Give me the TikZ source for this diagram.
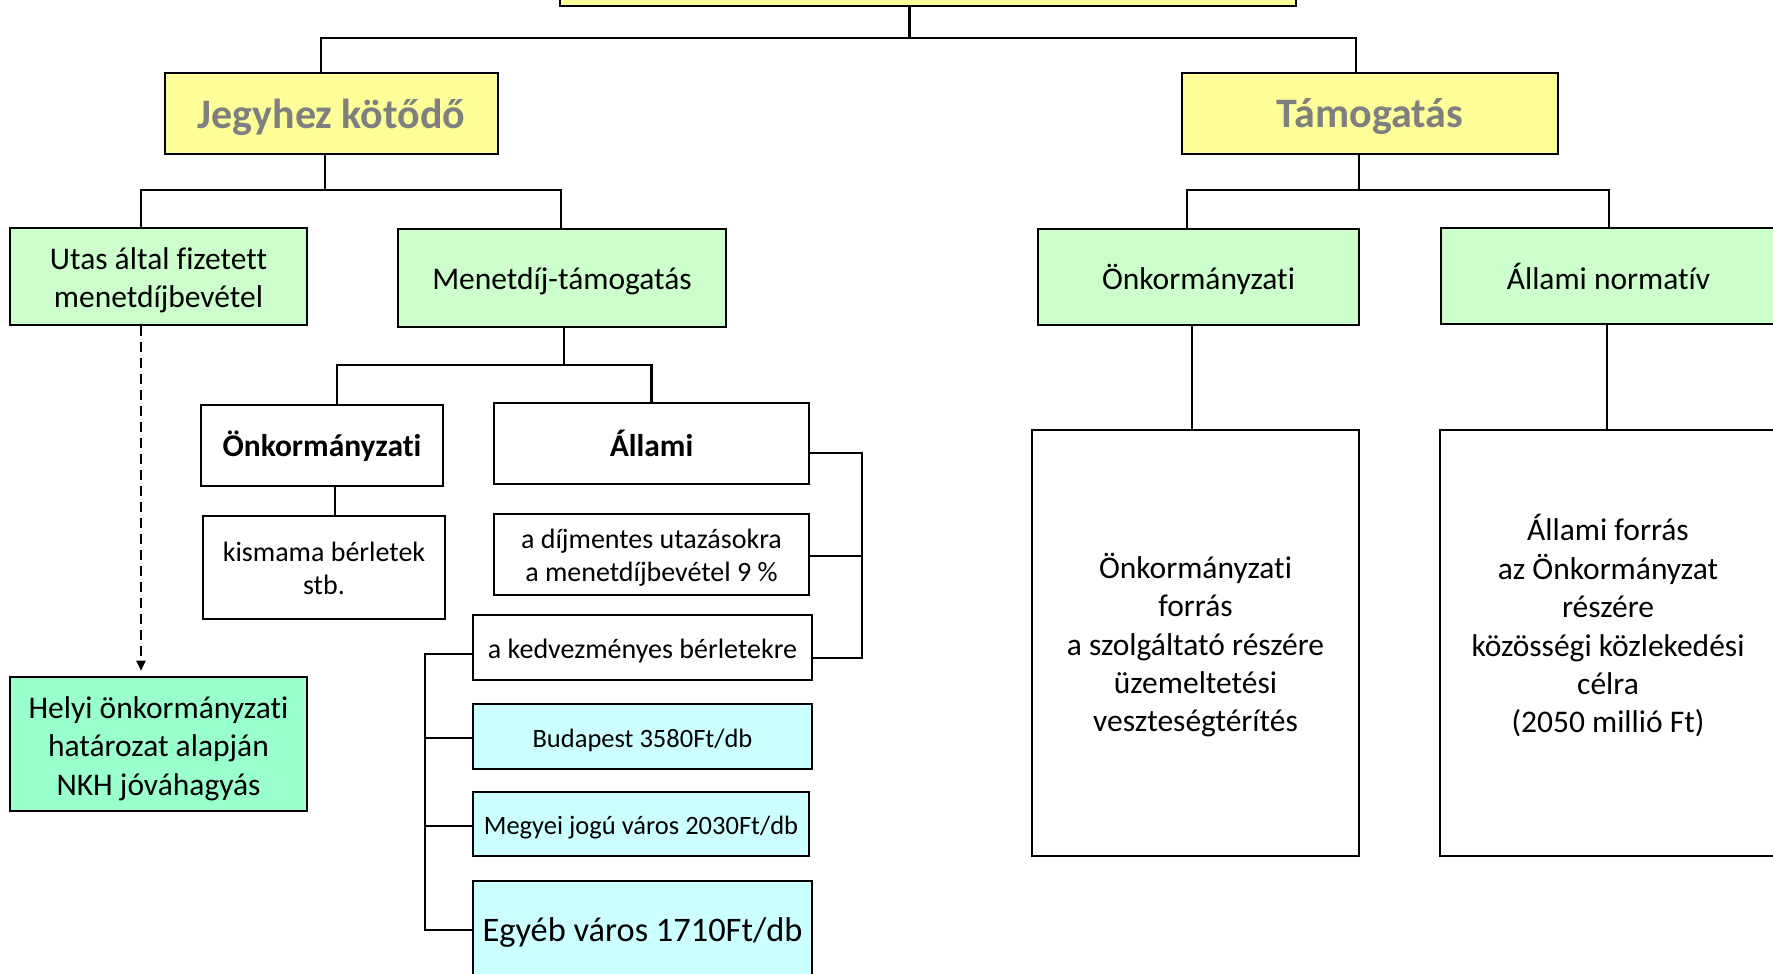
\documentclass[tikz,border=0pt]{standalone}
\usepackage{fontspec}
\setmainfont{Carlito}[Ligatures=NoCommon]
\usetikzlibrary{arrows.meta}
\definecolor{yel}{HTML}{FFFF99}
\definecolor{lgreen}{HTML}{CCFFCC}
\definecolor{mint}{HTML}{99FFCC}
\definecolor{lcyan}{HTML}{CCFFFF}
\definecolor{hgray}{HTML}{7F7F7F}
\newcommand{\txtdown}[2]{\raisebox{0pt}[\dimexpr\height+#1\relax][\depth]{#2}}
\tikzset{
  box/.style={draw, line width=2.6pt, align=center, inner sep=0pt},
  conn/.style={line width=2.2pt},
  ftxt/.style={font=\fontsize{31.5}{38.4}\selectfont},
  fsmall/.style={font=\fontsize{28}{33}\selectfont},
  ftiny/.style={font=\fontsize{26.5}{32}\selectfont},
  fbig/.style={font=\fontsize{34.4}{41}\selectfont},
  fbold/.style={font=\fontsize{31.5}{38.4}\selectfont\bfseries},
  hdr/.style={font=\fontsize{42}{50}\selectfont\bfseries, text=hgray},
}
\begin{document}
\begin{tikzpicture}[x=1pt,y=-1pt]
\path[use as bounding box] (0,0) rectangle (1773,974);
\clip (0,0) rectangle (1773,974);
% top level
\node[box, fill=yel, minimum width=736pt, minimum height=86pt] (top) at (928,-37) {};
\node[box, fill=yel, hdr, minimum width=333pt, minimum height=81pt] (jk) at (331.5,113.5) {\txtdown{7pt}{Jegyhez kötődő}};
\node[box, fill=yel, hdr, minimum width=376pt, minimum height=81pt] (tam) at (1370,113.5) {\txtdown{7pt}{Támogatás}};
% second level
\node[box, fill=lgreen, ftxt, minimum width=297pt, minimum height=97pt] (utas) at (158.5,276.5) {\txtdown{8pt}{Utas által fizetett}\\menetdíjbevétel};
\node[box, fill=lgreen, ftxt, minimum width=328pt, minimum height=98pt] (menet) at (562,278) {\txtdown{7pt}{Menetdíj-támogatás}};
\node[box, fill=lgreen, ftxt, minimum width=321pt, minimum height=96pt] (onkg) at (1198.5,277) {\txtdown{4.5pt}{Önkormányzati}};
\node[box, fill=lgreen, ftxt, minimum width=335pt, minimum height=96pt] (allnorm) at (1608.5,276) {Állami normatív};
% third level left
\node[box, fill=white, fbold, minimum width=242pt, minimum height=81pt] (onkb) at (322,445.5) {\txtdown{2pt}{Önkormányzati}};
\node[box, fill=white, fbold, minimum width=315pt, minimum height=81pt] (allb) at (651.5,443.5) {Állami};
\node[box, fill=white, fsmall, minimum width=242pt, minimum height=103pt] (kism) at (324,567.5) {\txtdown{2pt}{kismama bérletek}\\stb.};
\node[box, fill=white, fsmall, minimum width=315pt, minimum height=81pt] (dij) at (651.5,554.5) {\txtdown{5.5pt}{a díjmentes utazásokra}\\a menetdíjbevétel 9 \%};
\node[box, fill=white, fsmall, minimum width=339pt, minimum height=65pt] (kedv) at (642.5,647.5) {\txtdown{7pt}{a kedvezményes bérletekre}};
\node[box, fill=lcyan, ftiny, minimum width=339pt, minimum height=65pt] (bud) at (642.5,736.5) {\txtdown{7pt}{Budapest 3580Ft/db}};
\node[box, fill=lcyan, ftiny, minimum width=336pt, minimum height=64pt] (megy) at (641,824) {\txtdown{7pt}{Megyei jogú város 2030Ft/db}};
\node[box, fill=lcyan, fbig, minimum width=339pt, minimum height=96pt] (egy) at (642.5,929) {\txtdown{7pt}{Egyéb város 1710Ft/db}};
\node[box, fill=mint, ftxt, minimum width=297pt, minimum height=134pt] (helyi) at (158.5,744) {\txtdown{9pt}{Helyi önkormányzati}\\határozat alapján\\NKH jóváhagyás};
% right big boxes
\node[box, fill=white, ftxt, minimum width=327pt, minimum height=426pt] (onkr) at (1195.5,643) {\txtdown{4.5pt}{Önkormányzati}\\forrás\\a szolgáltató részére\\üzemeltetési\\veszteségtérítés};
\node[box, fill=white, ftxt, minimum width=336pt, minimum height=426pt] (allr) at (1608,643) {Állami forrás\\az Önkormányzat\\részére\\közösségi közlekedési\\célra\\(2050 millió Ft)\\\mbox{}};
% connectors: top
\coordinate (tS) at ([xshift=-18.5pt]top.south);
\coordinate (t1) at ([yshift=-31pt]tS);
\draw[conn] (tS) -- (t1);
\draw[conn] ([xshift=-10.5pt]jk.north) |- (t1) -| ([xshift=-14pt]tam.north);
% jk
\coordinate (jS) at ([xshift=-6.5pt]jk.south);
\coordinate (j1) at ([yshift=-35pt]jS);
\draw[conn] (jS) -- (j1);
\draw[conn] ([xshift=-17.5pt]utas.north) |- (j1) -| ([xshift=-1pt]menet.north);
% tam
\coordinate (tmS) at ([xshift=-11pt]tam.south);
\coordinate (tm1) at ([yshift=-35pt]tmS);
\draw[conn] (tmS) -- (tm1);
\draw[conn] ([xshift=-11.5pt]onkg.north) |- (tm1) -| ([xshift=0.5pt]allnorm.north);
% menet
\coordinate (mS) at ([xshift=2pt]menet.south);
\coordinate (m1) at ([yshift=-37pt]mS);
\draw[conn] (mS) -- (m1);
\draw[conn] ([xshift=15pt]onkb.north) |- (m1) -| (allb.north);
% onkb -> kism
\draw[conn] ([xshift=13pt]onkb.south) -- ([xshift=13pt]onkb.south |- kism.north);
% right bracket
\coordinate (rb) at (862,556);
\draw[conn] ([yshift=-9.5pt]allb.east) -| (rb) |- ([yshift=-10.5pt]kedv.east);
\draw[conn] ([yshift=-1.5pt]dij.east) -- (rb);
% left bracket
\coordinate (lb) at (425,738);
\draw[conn] ([yshift=-6.5pt]kedv.west) -| (lb) |- ([yshift=-1pt]egy.west);
\draw[conn] ([yshift=-1.5pt]bud.west) -- (lb);
\draw[conn] ([yshift=-2pt]megy.west) -- ([yshift=-2pt]megy.west -| lb);
% right column
\draw[conn] ([xshift=-6.5pt]onkg.south) -- ([xshift=-6.5pt]onkg.south |- onkr.north);
\draw[conn] ([xshift=-1.5pt]allnorm.south) -- ([xshift=-1.5pt]allnorm.south |- allr.north);
% dashed arrow
\draw[line width=1.8pt, dash pattern=on 10pt off 6pt, shorten >=5pt, -{Triangle[length=10pt,width=9pt]}] ([xshift=-17.5pt]utas.south) -- ([xshift=-17.5pt]helyi.north);
\end{tikzpicture}
\end{document}
